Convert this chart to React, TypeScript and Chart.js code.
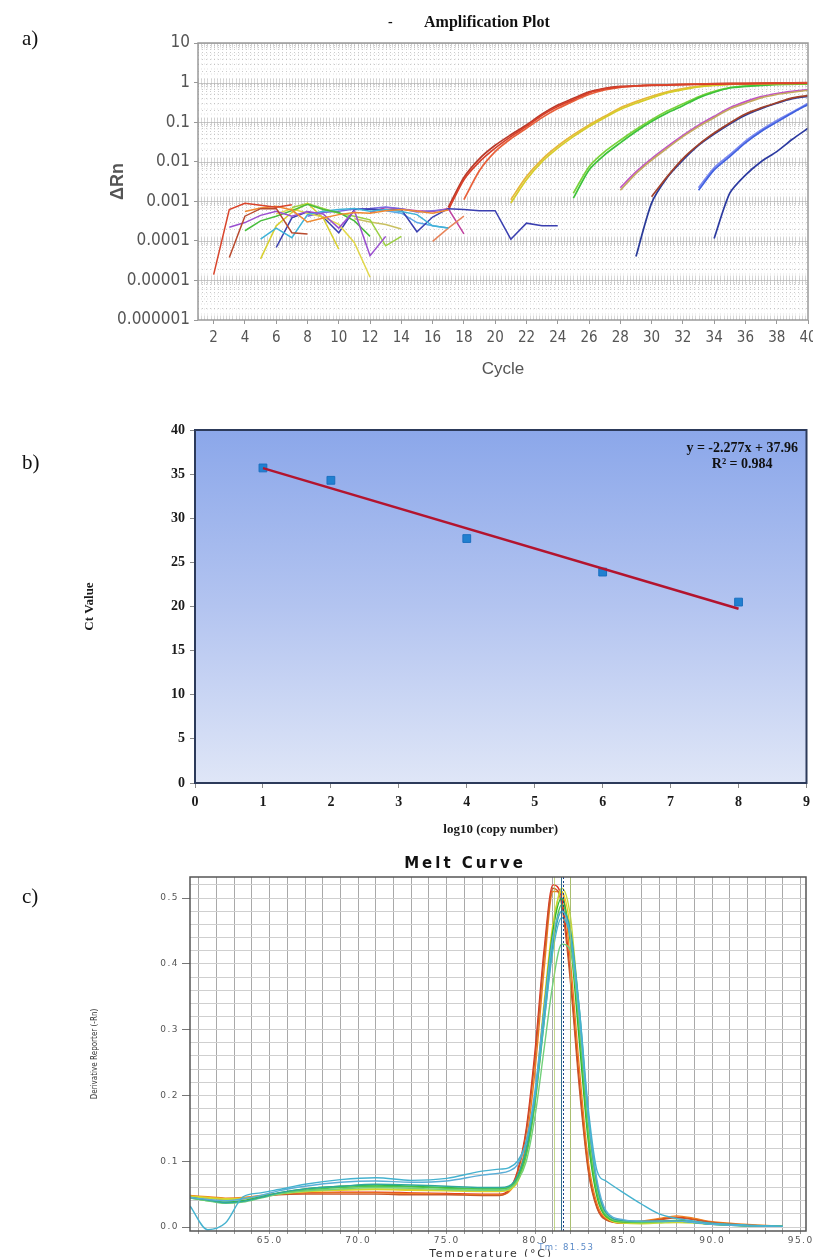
import React, { useEffect, useRef } from "react";
import { Chart, registerables } from "chart.js";

Chart.register(...registerables);

type Pt = [number, number];

// ---------------- Panel a : Amplification plot ----------------
const ampXTicks = [2, 4, 6, 8, 10, 12, 14, 16, 18, 20, 22, 24, 26, 28, 30, 32, 34, 36, 38, 40];
const ampYDecades = [-6, -5, -4, -3, -2, -1, 0, 1];
const ampYTickLabels = ["0.000001", "0.00001", "0.0001", "0.001", "0.01", "0.1", "1", "10"];

const noiseRed: Pt[] = [[2, 1.4e-5], [3, 6.2e-4], [4, 8.9e-4], [5, 7.9e-4], [6, 7.1e-4], [7, 8.2e-4]];
const noiseBrown: Pt[] = [[3, 3.8e-5], [4, 4.2e-4], [5, 6.5e-4], [6, 6.6e-4], [7, 1.6e-4], [8, 1.5e-4]];
const noiseOrange: Pt[] = [[4, 5.5e-4], [5, 6.8e-4], [6, 7.5e-4], [7, 6e-4], [8, 3e-4], [9, 3.8e-4], [10, 4.6e-4], [11, 5.2e-4], [12, 5e-4], [13, 5.8e-4], [14, 6.2e-4], [15, 5.6e-4], [16, 5e-4], [17, 6e-4]];
const noisePurple: Pt[] = [[3, 2.2e-4], [4, 2.9e-4], [5, 4.4e-4], [6, 5.6e-4], [7, 4.2e-4], [8, 5.5e-4], [9, 4.8e-4], [10, 2.1e-4], [11, 5.8e-4], [12, 4.2e-5], [13, 1.3e-4]];
const noiseGreen: Pt[] = [[4, 1.8e-4], [5, 3.2e-4], [6, 4.2e-4], [7, 5.8e-4], [8, 8.4e-4], [9, 6.2e-4], [10, 5.2e-4], [11, 3.2e-4], [12, 1.3e-4]];
const noiseCyan: Pt[] = [[5, 1.1e-4], [6, 2.1e-4], [7, 1.2e-4], [8, 4.6e-4], [9, 5.6e-4], [10, 6.2e-4], [11, 6.6e-4], [12, 5.6e-4], [13, 6.2e-4], [14, 5.5e-4], [15, 4.6e-4], [16, 2.4e-4], [17, 2.1e-4]];
const noiseYellow: Pt[] = [[5, 3.5e-5], [6, 2.4e-4], [7, 5.2e-4], [8, 9e-4], [9, 3.8e-4], [10, 6.2e-5]];
const noiseYellow2: Pt[] = [[6, 4.8e-4], [7, 6.5e-4], [8, 5e-4], [9, 4e-4], [10, 2.6e-4], [11, 9e-5], [12, 1.2e-5]];
const noiseNavy: Pt[] = [[6, 6.8e-5], [7, 3.8e-4], [8, 5.4e-4], [9, 4e-4], [10, 1.6e-4], [11, 6.2e-4], [12, 6.4e-4], [13, 6e-4], [14, 6.2e-4], [15, 1.7e-4], [16, 4e-4], [17, 6.5e-4], [18, 6.2e-4], [19, 5.8e-4], [20, 5.8e-4], [21, 1.1e-4], [22, 2.8e-4], [23, 2.4e-4], [24, 2.4e-4]];
const noiseLime: Pt[] = [[7, 7e-4], [8, 8.8e-4], [9, 6.6e-4], [10, 5e-4], [11, 4.2e-4], [12, 3.4e-4], [13, 7.5e-5], [14, 1.3e-4]];
const noiseViolet: Pt[] = [[8, 4.2e-4], [9, 5.2e-4], [10, 5.6e-4], [11, 6.4e-4], [12, 6.6e-4], [13, 7.2e-4], [14, 6.5e-4], [15, 5.4e-4], [16, 5.8e-4], [17, 6.2e-4]];
const noiseSalmon: Pt[] = [[16, 9.7e-5], [17, 2.1e-4], [18, 4.2e-4]];
const noiseMagenta: Pt[] = [[12, 5.2e-4], [13, 7e-4], [14, 6.4e-4], [15, 5.8e-4], [16, 5.5e-4], [17, 6.5e-4], [18, 1.5e-4]];
const noiseKhaki: Pt[] = [[11, 3.6e-4], [12, 3e-4], [13, 2.6e-4], [14, 2e-4]];
const noiseSky: Pt[] = [[13, 5.8e-4], [14, 5e-4], [15, 2.9e-4], [16, 2.4e-4], [17, 2.1e-4]];

const ampRed1: Pt[] = [[17, 6e-4], [18, 3.5e-3], [19, 1e-2], [20, 2.2e-2], [21, 4.3e-2], [22, 7.8e-2], [23, 0.15], [24, 0.25], [25, 0.37], [26, 0.55], [27, 0.69], [28, 0.78], [29, 0.82], [30, 0.85], [32, 0.88], [34, 0.91], [36, 0.93], [38, 0.95], [40, 0.96]];
const ampRed2: Pt[] = [[18, 1.1e-3], [19, 6e-3], [20, 1.8e-2], [21, 3.8e-2], [22, 7e-2], [23, 0.13], [24, 0.22], [25, 0.34], [26, 0.5], [27, 0.65], [28, 0.76], [29, 0.82], [30, 0.86], [32, 0.9], [34, 0.93], [36, 0.95], [38, 0.97], [40, 0.98]];
const ampRed3: Pt[] = [[17, 7e-4], [18, 4e-3], [19, 1.2e-2], [20, 2.6e-2], [21, 4.8e-2], [22, 8.5e-2], [23, 0.16], [24, 0.27], [25, 0.4], [26, 0.58], [27, 0.72], [28, 0.8], [30, 0.86], [32, 0.9], [34, 0.94], [36, 0.96], [38, 0.98], [40, 1.0]];
const ampYellow1: Pt[] = [[21, 9e-4], [22, 3.5e-3], [23, 1e-2], [24, 2.2e-2], [25, 4.3e-2], [26, 7.8e-2], [27, 0.13], [28, 0.21], [29, 0.3], [30, 0.41], [31, 0.55], [32, 0.66], [33, 0.78], [34, 0.85], [35, 0.9], [36, 0.92], [38, 0.94], [40, 0.95]];
const ampYellow2: Pt[] = [[21, 1.1e-3], [22, 4.2e-3], [23, 1.15e-2], [24, 2.5e-2], [25, 4.8e-2], [26, 8.5e-2], [27, 0.14], [28, 0.23], [29, 0.33], [30, 0.45], [31, 0.58], [32, 0.7], [33, 0.8], [34, 0.87], [35, 0.91], [36, 0.93], [38, 0.96], [40, 0.97]];
const ampGreen1: Pt[] = [[25, 1.2e-3], [26, 6.2e-3], [27, 1.5e-2], [28, 3e-2], [29, 5.8e-2], [30, 0.104], [31, 0.17], [32, 0.26], [33, 0.41], [34, 0.57], [35, 0.73], [36, 0.8], [37, 0.85], [38, 0.9], [40, 0.92]];
const ampGreen2: Pt[] = [[25, 1.6e-3], [26, 7.5e-3], [27, 1.8e-2], [28, 3.5e-2], [29, 6.5e-2], [30, 0.115], [31, 0.19], [32, 0.29], [33, 0.44], [34, 0.6], [35, 0.75], [36, 0.82], [38, 0.9], [40, 0.93]];
const ampKhaki: Pt[] = [[28, 1.9e-3], [29, 5e-3], [30, 1.1e-2], [31, 2.2e-2], [32, 4.3e-2], [33, 7.8e-2], [34, 0.13], [35, 0.215], [36, 0.3], [37, 0.41], [38, 0.5], [39, 0.57], [40, 0.64]];
const ampMagenta: Pt[] = [[28, 2.2e-3], [29, 5.5e-3], [30, 1.2e-2], [31, 2.4e-2], [32, 4.6e-2], [33, 8.3e-2], [34, 0.14], [35, 0.23], [36, 0.33], [37, 0.44], [38, 0.53], [39, 0.6], [40, 0.66]];
const ampBrown: Pt[] = [[30, 1.3e-3], [31, 4.2e-3], [32, 1.2e-2], [33, 2.7e-2], [34, 5.3e-2], [35, 9.5e-2], [36, 0.16], [37, 0.23], [38, 0.31], [39, 0.41], [40, 0.47]];
const ampNavy1: Pt[] = [[29, 4e-5], [30, 9e-4], [31, 4e-3], [32, 1.1e-2], [33, 2.6e-2], [34, 5e-2], [35, 9e-2], [36, 0.15], [37, 0.22], [38, 0.3], [39, 0.39], [40, 0.45]];
const ampBlue1: Pt[] = [[33, 1.9e-3], [34, 6.2e-3], [35, 1.35e-2], [36, 3e-2], [37, 5.8e-2], [38, 0.1], [39, 0.17], [40, 0.28]];
const ampBlue2: Pt[] = [[33, 2.2e-3], [34, 7e-3], [35, 1.5e-2], [36, 3.3e-2], [37, 6.3e-2], [38, 0.11], [39, 0.18], [40, 0.3]];
const ampNavy2: Pt[] = [[34, 1.15e-4], [35, 1.6e-3], [36, 4.6e-3], [37, 1e-2], [38, 1.8e-2], [39, 3.7e-2], [40, 7e-2]];

// ---------------- Panel b : standard curve ----------------
const stdX = [1, 2, 4, 6, 8];
const stdCt = [35.7, 34.3, 27.7, 23.9, 20.5];
const trendSlope = -2.277;
const trendIntercept = 37.96;
const trendRange = [1, 8];
const trendLabel1 = "y = -2.277x + 37.96";
const trendLabel2 = "R² = 0.984";

// ---------------- Panel c : melt curve ----------------
const meltTemps = [60.5, 61.5, 62.5, 63.5, 64.5, 65.5, 67, 69, 71, 73, 75, 77, 78, 78.5, 79, 79.5, 80, 80.5, 81, 81.5, 82, 82.5, 83, 83.5, 84, 85, 86, 87, 88, 89, 90, 92, 94];
const meltRed = [0.047, 0.045, 0.043, 0.044, 0.047, 0.05, 0.052, 0.053, 0.053, 0.052, 0.051, 0.05, 0.05, 0.056, 0.085, 0.15, 0.27, 0.42, 0.52, 0.5, 0.38, 0.22, 0.09, 0.03, 0.012, 0.006, 0.008, 0.012, 0.015, 0.012, 0.007, 0.003, 0.001];
const meltOrange = [0.048, 0.046, 0.044, 0.045, 0.048, 0.051, 0.052, 0.052, 0.052, 0.051, 0.05, 0.049, 0.049, 0.053, 0.075, 0.13, 0.24, 0.39, 0.51, 0.51, 0.4, 0.24, 0.1, 0.035, 0.013, 0.007, 0.009, 0.013, 0.017, 0.013, 0.008, 0.004, 0.001];
const meltBrown = [0.046, 0.044, 0.042, 0.043, 0.046, 0.049, 0.05, 0.05, 0.05, 0.049, 0.049, 0.048, 0.048, 0.055, 0.082, 0.145, 0.26, 0.41, 0.515, 0.49, 0.37, 0.21, 0.085, 0.028, 0.011, 0.006, 0.008, 0.011, 0.014, 0.011, 0.007, 0.003, 0.001];
const meltYellow = [0.047, 0.045, 0.043, 0.044, 0.047, 0.051, 0.054, 0.056, 0.057, 0.056, 0.055, 0.054, 0.054, 0.056, 0.068, 0.11, 0.2, 0.34, 0.46, 0.51, 0.45, 0.3, 0.14, 0.05, 0.015, 0.006, 0.006, 0.008, 0.01, 0.008, 0.005, 0.002, 0.001];
const meltYellowGreen = [0.046, 0.044, 0.042, 0.043, 0.046, 0.05, 0.054, 0.057, 0.058, 0.057, 0.056, 0.055, 0.055, 0.057, 0.07, 0.11, 0.19, 0.32, 0.45, 0.515, 0.47, 0.32, 0.15, 0.055, 0.017, 0.006, 0.005, 0.006, 0.007, 0.006, 0.004, 0.002, 0.001];
const meltGreen = [0.045, 0.041, 0.038, 0.04, 0.046, 0.052, 0.058, 0.062, 0.064, 0.062, 0.06, 0.058, 0.058, 0.06, 0.075, 0.115, 0.2, 0.33, 0.45, 0.5, 0.43, 0.28, 0.13, 0.045, 0.016, 0.008, 0.008, 0.009, 0.01, 0.008, 0.005, 0.002, 0.001];
const meltGreen2 = [0.044, 0.04, 0.037, 0.039, 0.045, 0.051, 0.056, 0.06, 0.062, 0.061, 0.059, 0.058, 0.058, 0.06, 0.073, 0.11, 0.19, 0.31, 0.43, 0.49, 0.44, 0.3, 0.14, 0.05, 0.017, 0.008, 0.007, 0.008, 0.009, 0.007, 0.004, 0.002, 0.001];
const meltLightGreen = [0.044, 0.04, 0.036, 0.038, 0.044, 0.05, 0.055, 0.058, 0.06, 0.059, 0.057, 0.056, 0.056, 0.058, 0.07, 0.1, 0.17, 0.27, 0.37, 0.43, 0.42, 0.31, 0.16, 0.06, 0.02, 0.009, 0.008, 0.008, 0.009, 0.007, 0.004, 0.002, 0.001];
const meltTeal = [0.045, 0.041, 0.037, 0.039, 0.045, 0.052, 0.058, 0.062, 0.065, 0.064, 0.062, 0.06, 0.06, 0.062, 0.078, 0.12, 0.2, 0.32, 0.43, 0.48, 0.45, 0.33, 0.17, 0.065, 0.022, 0.01, 0.009, 0.009, 0.009, 0.007, 0.004, 0.002, 0.001];
const meltCyan1 = [0.032, -0.004, 0.006, 0.046, 0.052, 0.057, 0.065, 0.072, 0.075, 0.071, 0.074, 0.085, 0.088, 0.09, 0.1, 0.13, 0.2, 0.31, 0.42, 0.47, 0.44, 0.33, 0.18, 0.085, 0.07, 0.052, 0.035, 0.02, 0.013, 0.009, 0.006, 0.003, 0.001];
const meltCyan2 = [0.045, 0.042, 0.04, 0.043, 0.048, 0.055, 0.062, 0.068, 0.07, 0.068, 0.07, 0.079, 0.082, 0.085, 0.095, 0.13, 0.21, 0.33, 0.44, 0.48, 0.44, 0.32, 0.17, 0.07, 0.025, 0.011, 0.009, 0.009, 0.009, 0.007, 0.004, 0.002, 0.001];
const meltXGrid = [61, 62, 63, 64, 65, 66, 67, 68, 69, 70, 71, 72, 73, 74, 75, 76, 77, 78, 79, 80, 81, 82, 83, 84, 85, 86, 87, 88, 89, 90, 91, 92, 93, 94, 95];
const meltYGrid = [0, 0.02, 0.04, 0.06, 0.08, 0.1, 0.12, 0.14, 0.16, 0.18, 0.2, 0.22, 0.24, 0.26, 0.28, 0.3, 0.32, 0.34, 0.36, 0.38, 0.4, 0.42, 0.44, 0.46, 0.48, 0.5, 0.52];
const meltTm = 81.53;
const meltTmLabel = "Tm: 81.53";
const meltSideTm = [81.05, 81.95];
const meltYTitle = "Derivative Reporter (-Rn)";
const meltXTitle = "Temperature (°C)";

const toXY = (pts: Pt[]) => pts.map(([x, y]) => ({ x, y }));
const meltXY = (vals: number[]) => vals.map((y, i) => ({ x: meltTemps[i], y }));

const NARROW = "'Liberation Sans Narrow', 'DejaVu Sans Condensed', 'Arial Narrow', 'Liberation Sans', sans-serif";
const SERIF = "'Liberation Serif', 'Times New Roman', serif";
const DEJAVU = "'DejaVu Sans', Verdana, sans-serif";

// ---------------- Chart components ----------------
function AmpChart() {
  const ref = useRef<HTMLCanvasElement | null>(null);
  useEffect(() => {
    const noise: [Pt[], string][] = [
      [noiseRed, "#d9442b"], [noiseBrown, "#b84a2e"], [noiseOrange, "#ef8a32"], [noisePurple, "#9a4fd0"],
      [noiseGreen, "#48bd3c"], [noiseCyan, "#3fb3d8"], [noiseYellow, "#d8d030"], [noiseYellow2, "#e2d84a"],
      [noiseNavy, "#3a3fb0"], [noiseLime, "#9ad040"], [noiseViolet, "#7a6ae0"], [noiseSalmon, "#e8845a"],
      [noiseMagenta, "#c040a0"], [noiseKhaki, "#c8c060"], [noiseSky, "#5aa8e8"],
    ];
    const amp: [Pt[], string][] = [
      [ampRed1, "#d8402a"], [ampRed2, "#e8603a"], [ampRed3, "#b83a2a"], [ampYellow1, "#d6cc2a"],
      [ampYellow2, "#e6b83a"], [ampGreen1, "#3cc23a"], [ampGreen2, "#7ad43a"], [ampKhaki, "#c4a860"],
      [ampMagenta, "#c050c8"], [ampBrown, "#a0402a"], [ampNavy1, "#2a3a98"], [ampBlue1, "#4060e0"],
      [ampBlue2, "#7a88f0"], [ampNavy2, "#2c3aa0"],
    ];
    const datasets: any[] = [
      ...noise.map(([d, c]) => ({ data: toXY(d), borderColor: c, borderWidth: 1.5, pointRadius: 0, tension: 0 })),
      ...amp.map(([d, c]) => ({ data: toXY(d), borderColor: c, borderWidth: 1.7, pointRadius: 0, tension: 0.25 })),
    ];
    const gridPlugin = {
      id: "ampGrid",
      beforeDatasetsDraw(chart: any) {
        const { ctx, chartArea: a, scales } = chart;
        const x = scales.x, y = scales.y;
        ctx.save();
        ctx.beginPath();
        ctx.rect(a.left, a.top, a.right - a.left, a.bottom - a.top);
        ctx.clip();
        ctx.lineWidth = 1;
        ctx.strokeStyle = "rgba(160,160,160,0.16)";
        ctx.setLineDash([2, 3]);
        for (let i = 5; i <= 200; i++) {
          const px = Math.round(x.getPixelForValue(i / 5)) + 0.5;
          ctx.beginPath(); ctx.moveTo(px, a.top); ctx.lineTo(px, a.bottom); ctx.stroke();
        }
        ctx.setLineDash([1, 3]);
        ctx.strokeStyle = "rgba(140,140,140,0.45)";
        for (const e of ampYDecades) {
          for (let m = 2; m < 10; m++) {
            const py = Math.round(y.getPixelForValue(m * Math.pow(10, e))) + 0.5;
            if (py < a.top || py > a.bottom) continue;
            ctx.beginPath(); ctx.moveTo(a.left, py); ctx.lineTo(a.right, py); ctx.stroke();
          }
        }
        ctx.setLineDash([]);
        for (const e of ampYDecades) {
          const py = Math.round(y.getPixelForValue(Math.pow(10, e))) + 0.5;
          ctx.strokeStyle = "rgba(165,165,165,0.42)";
          for (let i = 5; i <= 200; i++) {
            const px = Math.round(x.getPixelForValue(i / 5)) + 0.5;
            ctx.beginPath(); ctx.moveTo(px, py - 5); ctx.lineTo(px, py + 4); ctx.stroke();
          }
          ctx.strokeStyle = "rgba(175,175,175,0.7)";
          ctx.beginPath(); ctx.moveTo(a.left, py); ctx.lineTo(a.right, py); ctx.stroke();
        }
        ctx.restore();
      },
      afterDraw(chart: any) {
        const { ctx, chartArea: a } = chart;
        ctx.save();
        ctx.strokeStyle = "#9a9a9a";
        ctx.lineWidth = 1.5;
        ctx.strokeRect(a.left, a.top, a.right - a.left, a.bottom - a.top);
        ctx.restore();
      },
    };
    const chart = new Chart(ref.current!, {
      type: "line",
      data: { datasets },
      plugins: [gridPlugin],
      options: {
        animation: false,
        responsive: false,
        devicePixelRatio: 1,
        layout: { padding: { top: 43, right: 5, left: 0, bottom: 0 } },
        plugins: { legend: { display: false }, tooltip: { enabled: false } },
        scales: {
          x: {
            type: "linear", min: 1, max: 40,
            afterBuildTicks: (s: any) => { s.ticks = ampXTicks.map((v) => ({ value: v })); },
            afterFit: (s: any) => { s.height = 72; s.paddingLeft = 0; s.paddingRight = 0; },
            grid: { drawOnChartArea: false, tickLength: 4, color: "#999" },
            border: { display: false },
            ticks: { color: "#555", padding: 5, maxRotation: 0, autoSkip: false, font: { family: NARROW, size: 15 } },
            title: { display: true, text: "Cycle", color: "#555", padding: { top: 0, bottom: 12 }, font: { family: "'Liberation Sans', Arial, sans-serif", size: 17 } },
          },
          y: {
            type: "logarithmic", min: 1e-6, max: 10,
            afterBuildTicks: (s: any) => { s.ticks = ampYDecades.map((e) => ({ value: Math.pow(10, e) })); },
            afterFit: (s: any) => { s.width = 198; s.paddingTop = 0; s.paddingBottom = 0; },
            grid: { drawOnChartArea: false, tickLength: 4, color: "#999" },
            border: { display: false },
            ticks: { color: "#555", padding: 4, autoSkip: false, font: { family: NARROW, size: 17 }, callback: (_v: any, i: number) => ampYTickLabels[i] },
            title: { display: true, text: "ΔRn", color: "#555", padding: { top: 107, bottom: 0 }, font: { family: "'Liberation Sans', Arial, sans-serif", size: 18, weight: "bold" } },
          },
        },
      } as any,
    });
    return () => chart.destroy();
  }, []);
  return <canvas ref={ref} width={813} height={392} style={{ position: "absolute", left: 0, top: 0, display: "block" }} />;
}

function StdChart() {
  const ref = useRef<HTMLCanvasElement | null>(null);
  useEffect(() => {
    const bgPlugin = {
      id: "stdBg",
      beforeDraw(chart: any) {
        const { ctx, chartArea: a } = chart;
        const g = ctx.createLinearGradient(0, a.top, 0, a.bottom);
        g.addColorStop(0, "#8ba7ea");
        g.addColorStop(0.5, "#b3c4f0");
        g.addColorStop(1, "#dfe6f7");
        ctx.save();
        ctx.fillStyle = g;
        ctx.fillRect(a.left, a.top, a.right - a.left, a.bottom - a.top);
        ctx.restore();
      },
      afterDraw(chart: any) {
        const { ctx, chartArea: a } = chart;
        ctx.save();
        ctx.strokeStyle = "#2c3a5a";
        ctx.lineWidth = 2;
        ctx.strokeRect(a.left, a.top, a.right - a.left, a.bottom - a.top);
        ctx.restore();
      },
    };
    const trendData = trendRange.map((x) => ({ x, y: trendSlope * x + trendIntercept }));
    const pts = stdX.map((x, i) => ({ x, y: stdCt[i] }));
    const serifBold = { family: SERIF, size: 14, weight: "bold" };
    const chart = new Chart(ref.current!, {
      type: "line",
      data: {
        datasets: [
          { data: trendData, borderColor: "#b3142e", borderWidth: 2.5, pointRadius: 0, tension: 0 },
          { data: pts, showLine: false, pointStyle: "rect", pointRadius: 5.5, backgroundColor: "#2080d0", borderColor: "#1a6fc0", borderWidth: 1 },
        ] as any,
      },
      plugins: [bgPlugin],
      options: {
        animation: false,
        responsive: false,
        devicePixelRatio: 1,
        layout: { padding: { top: 30, right: 6, left: 0, bottom: 0 } },
        plugins: { legend: { display: false }, tooltip: { enabled: false } },
        scales: {
          x: {
            type: "linear", min: 0, max: 9,
            afterFit: (s: any) => { s.height = 59; s.paddingLeft = 0; s.paddingRight = 0; },
            grid: { drawOnChartArea: false, tickLength: 5, color: "#8a8a8a" },
            border: { display: false },
            ticks: { stepSize: 1, color: "#1a1a1a", padding: 6, maxRotation: 0, font: serifBold },
            title: { display: true, text: "log10 (copy number)", color: "#1a1a1a", padding: { top: 0, bottom: 5 }, font: { family: SERIF, size: 13, weight: "bold" } },
          },
          y: {
            type: "linear", min: 0, max: 40,
            afterFit: (s: any) => { s.width = 195; s.paddingTop = 0; s.paddingBottom = 0; },
            grid: { drawOnChartArea: false, tickLength: 5, color: "#8a8a8a" },
            border: { display: false },
            ticks: { stepSize: 5, color: "#1a1a1a", padding: 5, font: serifBold },
            title: { display: true, text: "Ct Value", color: "#1a1a1a", padding: { top: 82, bottom: 0 }, font: { family: SERIF, size: 13, weight: "bold" } },
          },
        },
      } as any,
    });
    return () => chart.destroy();
  }, []);
  return <canvas ref={ref} width={813} height={442} style={{ position: "absolute", left: 0, top: 400, display: "block" }} />;
}

function MeltChart() {
  const ref = useRef<HTMLCanvasElement | null>(null);
  useEffect(() => {
    const curves: [number[], string][] = [
      [meltCyan1, "#45b2cf"], [meltCyan2, "#5aaed8"], [meltTeal, "#2fa89c"], [meltLightGreen, "#72d07a"],
      [meltGreen2, "#4cc64c"], [meltGreen, "#2fb531"], [meltYellowGreen, "#c4d83a"], [meltYellow, "#e8cf22"],
      [meltBrown, "#c8582a"], [meltOrange, "#f0801e"], [meltRed, "#e02f1e"],
    ];
    const datasets: any[] = curves.map(([v, c]) => ({
      data: meltXY(v), borderColor: c, borderWidth: 1.4, pointRadius: 0, cubicInterpolationMode: "monotone",
    }));
    const meltPlugin = {
      id: "meltDeco",
      beforeDraw(chart: any) {
        (chart.ctx as any).letterSpacing = "1.5px";
      },
      afterDatasetsDraw(chart: any) {
        const { ctx, chartArea: a, scales } = chart;
        const x = scales.x;
        ctx.save();
        ctx.lineWidth = 1;
        ctx.strokeStyle = "rgba(170,200,90,0.7)";
        for (const t of meltSideTm) {
          const px = Math.round(x.getPixelForValue(t)) + 0.5;
          ctx.beginPath(); ctx.moveTo(px, a.top); ctx.lineTo(px, a.bottom); ctx.stroke();
        }
        const tx = Math.round(x.getPixelForValue(meltTm)) + 0.5;
        ctx.strokeStyle = "#2f6f8f";
        ctx.beginPath(); ctx.moveTo(tx - 1, a.top); ctx.lineTo(tx - 1, a.bottom); ctx.stroke();
        ctx.strokeStyle = "#1a3f8a";
        ctx.setLineDash([2, 2]);
        ctx.beginPath(); ctx.moveTo(tx + 1, a.top); ctx.lineTo(tx + 1, a.bottom); ctx.stroke();
        ctx.setLineDash([]);
        ctx.strokeStyle = "#555";
        ctx.lineWidth = 1.5;
        ctx.strokeRect(a.left, a.top, a.right - a.left, a.bottom - a.top);
        ctx.restore();
      },
      afterDraw(chart: any) {
        const { ctx, scales, chartArea: a } = chart;
        const tx = scales.x.getPixelForValue(meltTm);
        ctx.save();
        ctx.textAlign = "center";
        ctx.textBaseline = "middle";
        // x-axis title
        (ctx as any).letterSpacing = "1.8px";
        ctx.font = `11px ${DEJAVU}`;
        ctx.fillStyle = "#333";
        ctx.fillText(meltXTitle, 491, a.bottom + 23);
        // Tm label
        (ctx as any).letterSpacing = "1.4px";
        ctx.font = `8.5px ${DEJAVU}`;
        ctx.fillStyle = "#5a8ac8";
        ctx.fillText(meltTmLabel, tx + 4, a.bottom + 17);
        // y-axis title (drawn without letter spacing)
        (ctx as any).letterSpacing = "0px";
        ctx.font = `8px ${NARROW}`;
        ctx.fillStyle = "#333";
        ctx.translate(95, (a.top + a.bottom) / 2);
        ctx.rotate(-Math.PI / 2);
        ctx.fillText(meltYTitle, 0, 0);
        ctx.restore();
      },
    };
    const chart = new Chart(ref.current!, {
      type: "line",
      data: { datasets },
      plugins: [meltPlugin],
      options: {
        animation: false,
        responsive: false,
        devicePixelRatio: 1,
        layout: { padding: { top: 32, right: 7, left: 0, bottom: 0 } },
        plugins: { legend: { display: false }, tooltip: { enabled: false } },
        scales: {
          x: {
            type: "linear", min: 60.5, max: 95.3,
            afterBuildTicks: (s: any) => { s.ticks = meltXGrid.map((v) => ({ value: v })); },
            afterFit: (s: any) => { s.height = 26; s.paddingLeft = 0; s.paddingRight = 0; },
            grid: { color: "#a9a9a9", lineWidth: 1, tickLength: 3, tickColor: "#999" },
            border: { display: false },
            ticks: {
              color: "#555", padding: 1, maxRotation: 0, autoSkip: false,
              font: { family: DEJAVU, size: 9 },
              callback: (v: any) => (Number(v) % 5 === 0 ? Number(v).toFixed(1) : ""),
            },
            title: { display: false },
          },
          y: {
            type: "linear", min: -0.006, max: 0.532,
            afterBuildTicks: (s: any) => { s.ticks = meltYGrid.map((v) => ({ value: v })); },
            afterFit: (s: any) => { s.width = 190; s.paddingTop = 0; s.paddingBottom = 0; },
            grid: {
              color: "#cfcfcf", lineWidth: 1, tickLength: 8,
              tickColor: (c: any) => (c.index % 5 === 0 ? "#777" : "rgba(0,0,0,0)"),
            },
            border: { display: false },
            ticks: {
              color: "#555", padding: 3, autoSkip: false,
              font: { family: DEJAVU, size: 9 },
              callback: (v: any, i: number) => (i % 5 === 0 ? Number(v).toFixed(1) : ""),
            },
            title: { display: false },
          },
        },
      } as any,
    });
    return () => chart.destroy();
  }, []);
  return <canvas ref={ref} width={813} height={412} style={{ position: "absolute", left: 0, top: 845, display: "block" }} />;
}

const panelLabel = (top: number): React.CSSProperties => ({
  position: "absolute", left: 22, top, fontFamily: SERIF, fontSize: 21, color: "#111", lineHeight: "24px",
});

export default function App() {
  return (
    <div style={{ position: "absolute", left: 0, top: 0, width: 813, height: 1257, background: "#fff", overflow: "hidden" }}>
      <AmpChart />
      <StdChart />
      <MeltChart />
      <div style={panelLabel(26)}>a)</div>
      <div style={panelLabel(450)}>b)</div>
      <div style={panelLabel(884)}>c)</div>
      <div style={{ position: "absolute", left: 388, top: 14, fontFamily: SERIF, fontWeight: "bold", fontSize: 14, color: "#111" }}>-</div>
      <div style={{ position: "absolute", left: 424, top: 13, fontFamily: SERIF, fontWeight: "bold", fontSize: 16, color: "#111", whiteSpace: "nowrap" }}>Amplification Plot</div>
      <div style={{ position: "absolute", left: 380, top: 854, width: 170, textAlign: "center", fontFamily: DEJAVU, fontWeight: "bold", fontSize: 15, letterSpacing: 3, color: "#111", whiteSpace: "nowrap" }}>Melt Curve</div>
      <div style={{ position: "absolute", right: 15, top: 440, textAlign: "center", fontFamily: SERIF, fontWeight: "bold", fontSize: 14, color: "#111", lineHeight: "16px", whiteSpace: "nowrap" }}>
        <div>{trendLabel1}</div>
        <div>{trendLabel2}</div>
      </div>
    </div>
  );
}
